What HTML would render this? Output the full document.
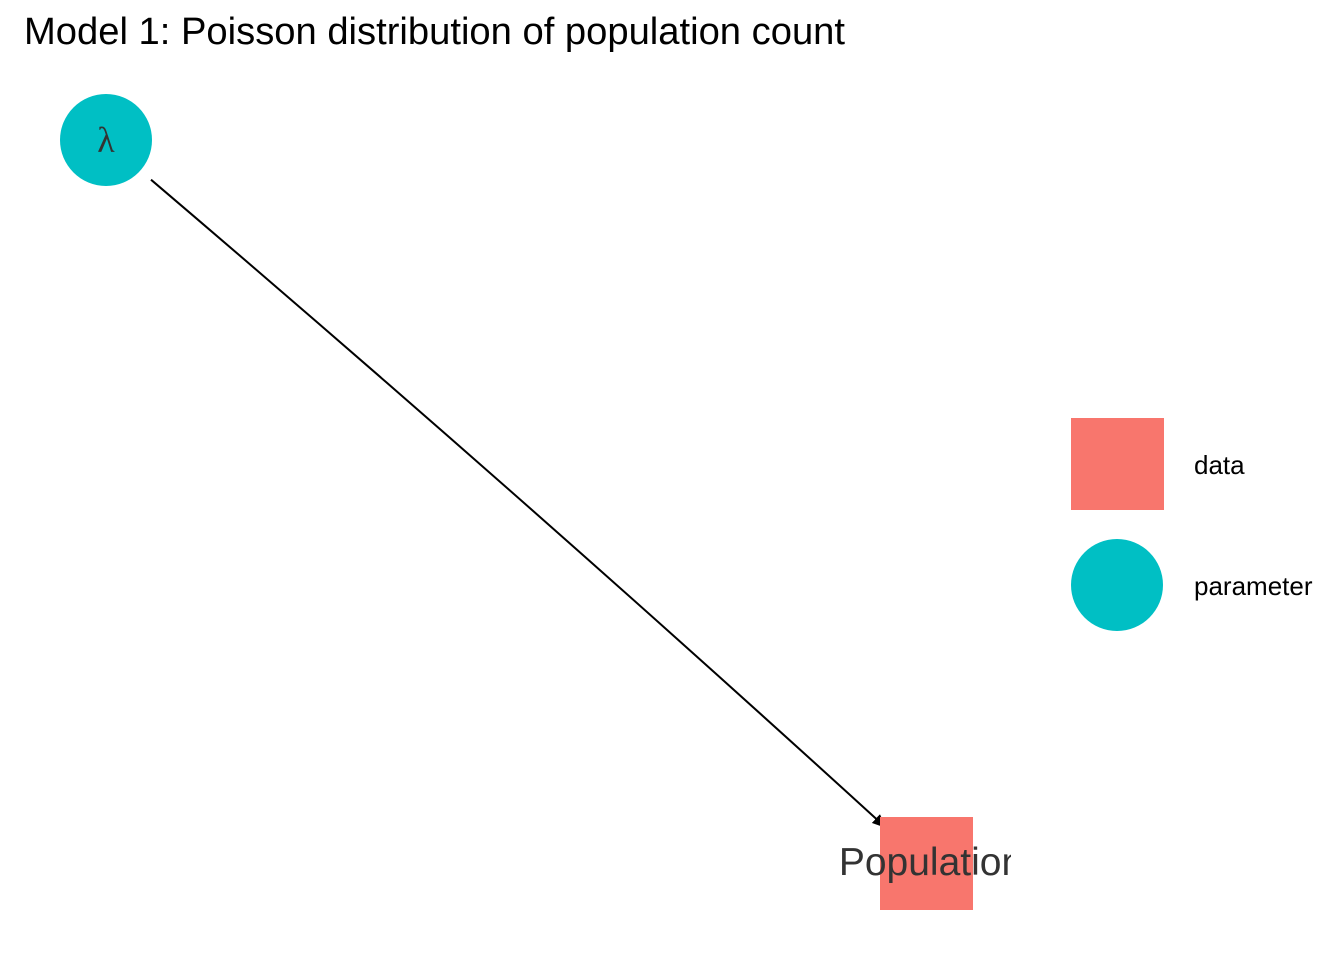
<!DOCTYPE html>
<html><head><meta charset="utf-8"><style>
html,body{margin:0;padding:0;background:#fff;}
svg{display:block;}
</style></head><body>
<svg id="chart" width="1344" height="960" xmlns="http://www.w3.org/2000/svg">
<text x="24" y="44" font-family="Liberation Sans, sans-serif" font-size="38" textLength="821" lengthAdjust="spacingAndGlyphs" fill="#000">Model 1: Poisson distribution of population count</text>
<defs><clipPath id="clip"><rect x="0" y="0" width="1011" height="960"/></clipPath>
<marker id="arr" markerWidth="14" markerHeight="12" refX="12" refY="6" orient="auto" markerUnits="userSpaceOnUse"><path d="M0,0 L14,6 L0,12 z" fill="#000"/></marker></defs>
<g id="plot"></g>
<g>
<rect x="1071" y="418" width="93" height="92" fill="#F8766D"/>
<text x="1194" y="474" font-family="Liberation Sans, sans-serif" font-size="26" fill="#000">data</text>
<circle cx="1117" cy="585" r="46" fill="#00BFC4"/>
<text x="1194" y="595" font-family="Liberation Sans, sans-serif" font-size="26" fill="#000">parameter</text>
</g>
</svg>
<script>
const nodeNames = ["λ", "Population"];
const nodeTypes = ["parameter", "data"];
const nodeX = [0, 1];
const nodeY = [1, 0];
const edgeFrom = [0];
const edgeTo = [1];
const sx = v => 106 + v * (926 - 106);
const sy = v => 863 + v * (140 - 863);
const g = document.getElementById('plot');
const NS = "http://www.w3.org/2000/svg";
edgeFrom.forEach((f, i) => {
  const t = edgeTo[i];
  const x1 = sx(nodeX[f]), y1 = sy(nodeY[f]), x2 = sx(nodeX[t]), y2 = sy(nodeY[t]);
  const dx = x2 - x1, dy = y2 - y1, L = Math.hypot(dx, dy);
  const ax = x1 + dx / L * 60, ay = y1 + dy / L * 60, bx = x2 - dx / L * 55, by = y2 - dy / L * 55;
  const mx = (ax + bx) / 2 + 6, my = (ay + by) / 2 - 6;
  const p = document.createElementNS(NS, 'path');
  p.setAttribute('d', `M${ax},${ay} Q${mx},${my} ${bx},${by}`);
  p.setAttribute('stroke', '#000'); p.setAttribute('stroke-width', '2'); p.setAttribute('fill', 'none');
  p.setAttribute('marker-end', 'url(#arr)');
  
  
  g.appendChild(p);
});
nodeNames.forEach((n, i) => {
  const x = sx(nodeX[i]), y = sy(nodeY[i]);
  let s;
  if (nodeTypes[i] === 'parameter') {
    s = document.createElementNS(NS, 'circle');
    s.setAttribute('cx', x); s.setAttribute('cy', y); s.setAttribute('r', 46);
    s.setAttribute('fill', '#00BFC4');
  } else {
    s = document.createElementNS(NS, 'rect');
    s.setAttribute('x', x - 46); s.setAttribute('y', y - 46); s.setAttribute('width', 93); s.setAttribute('height', 93);
    s.setAttribute('fill', '#F8766D');
  }
  
  
  g.appendChild(s);
  const t = document.createElementNS(NS, 'text');
  t.setAttribute('x', nodeTypes[i] === 'parameter' ? x : x + 5); t.setAttribute('y', y + 12);
  t.setAttribute('text-anchor', 'middle');
  t.setAttribute('font-size', nodeTypes[i] === 'parameter' ? 36 : 39);
  t.setAttribute('font-family', nodeTypes[i] === 'parameter' ? 'Liberation Serif, serif' : 'Liberation Sans, sans-serif');
  t.setAttribute('fill', '#333');
  t.setAttribute('clip-path', 'url(#clip)');
  t.textContent = n;
  
  
  g.appendChild(t);
});
</script>
</body></html>
